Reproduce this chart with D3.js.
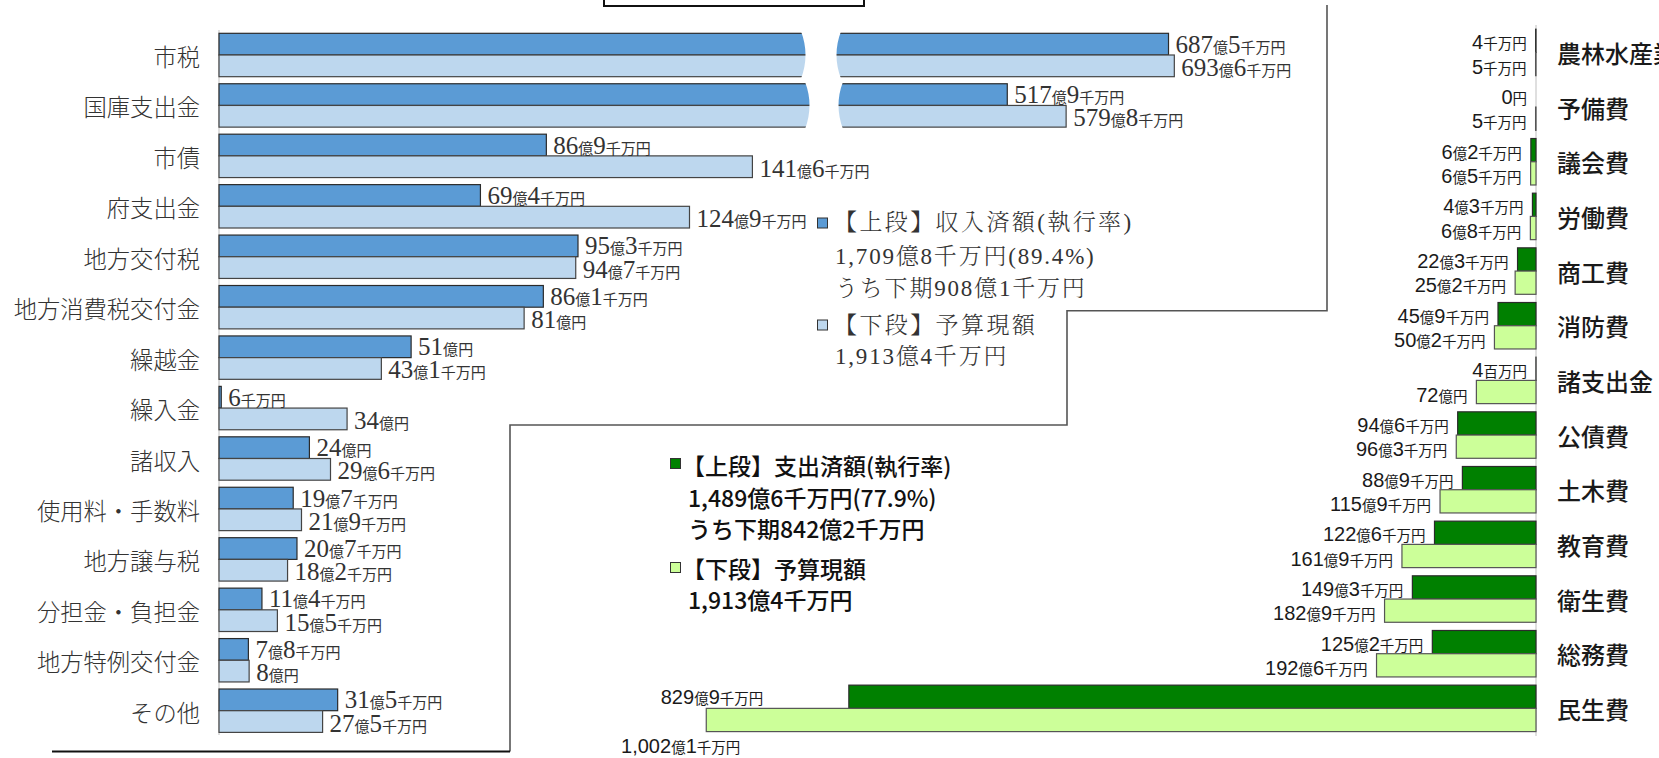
<!DOCTYPE html>
<html><head><meta charset="utf-8">
<script src="https://cdn.jsdelivr.net/npm/d3@7"></script>
<style>body{margin:0;background:#fff;} svg{display:block;}</style>
</head><body>
<svg id="chart" width="1659" height="758"></svg>
<script>
// ---------- DATA (億円) ----------
const revenueCategories = ["市税","国庫支出金","市債","府支出金","地方交付税","地方消費税交付金","繰越金","繰入金","諸収入","使用料・手数料","地方譲与税","分担金・負担金","地方特例交付金","その他"];
const revenueReceived = [687.5,517.9,86.9,69.4,95.3,86.1,51,0.6,24,19.7,20.7,11.4,7.8,31.5];
const revenueBudget   = [693.6,579.8,141.6,124.9,94.7,81,43.1,34,29.6,21.9,18.2,15.5,8,27.5];

const expenditureCategories = ["農林水産業費","予備費","議会費","労働費","商工費","消防費","諸支出金","公債費","土木費","教育費","衛生費","総務費","民生費"];
const expenditureSpent  = [0.4,0,6.2,4.3,22.3,45.9,0.04,94.6,88.9,122.6,149.3,125.2,829.9];
const expenditureBudget = [0.5,0.5,6.5,6.8,25.2,50.2,72,96.3,115.9,161.9,182.9,192.6,1002.1];

const revenueLegend = ["【上段】収入済額(執行率)","1,709億8千万円(89.4%)","うち下期908億1千万円","【下段】予算現額","1,913億4千万円"];
const expenditureLegend = ["【上段】支出済額(執行率)","1,489億6千万円(77.9%)","うち下期842億2千万円","【下段】予算現額","1,913億4千万円"];

// ---------- STYLE ----------
const C = {revTop:"#5B9BD5", revBot:"#BDD7EE", expTop:"#008000", expBot:"#CCFF99", stroke:"#2b2b2b"};
const SERIF = "'Liberation Serif','Noto Serif CJK JP','Noto Sans CJK JP',serif";
const JP = "'Noto Sans CJK JP','Noto Sans',sans-serif";
const SANSNUM = "'Liberation Sans Narrow','Liberation Sans',Arial,sans-serif";

const svg = d3.select("#chart");

// ---------- helpers ----------
function labelParts(v){
  if (v === 0) return [["0",1],["円",0]];
  if (v < 0.1) return [[String(Math.round(v*100)),1],["百万円",0]];
  const tenths = Math.round(v*10);
  const oku = Math.floor(tenths/10), sen = tenths % 10;
  if (oku === 0) return [[String(sen),1],["千万円",0]];
  const p = [[d3.format(",")(oku),1],["億",0]];
  if (sen > 0) { p.push([String(sen),1]); p.push(["千万円",0]); } else p.push(["円",0]);
  return p;
}
function drawLabel(g, v, x, y, anchor, big, small){
  const t = g.append("text").attr("x",x).attr("y",y).attr("text-anchor",anchor).attr("fill",big.fill);
  labelParts(v).forEach(([s,isBig])=>{
    const o = isBig ? big : small;
    t.append("tspan").text(s).attr("font-family",o.family).attr("font-size",o.size).attr("font-weight",o.weight||400);
  });
  return t;
}

// ---------- frame lines ----------
const frame = [[1327,5],[1327,310.7],[1067,310.7],[1067,425],[510,425],[510,751.5]];
svg.append("path").attr("d", d3.line()(frame)).attr("fill","none").attr("stroke","#555").attr("stroke-width",1.6);
svg.append("line").attr("x1",510).attr("x2",52).attr("y1",751.5).attr("y2",751.5).attr("stroke","#111").attr("stroke-width",2);
svg.append("path").attr("d","M604,-10V6H864V-10").attr("fill","none").attr("stroke","#111").attr("stroke-width",2);

// ---------- LEFT: revenue ----------
const yL = d3.scaleBand().domain(revenueCategories).range([26.25, 739.45]).padding(0.14);
const xL = d3.scaleLinear().domain([0,154.5,343,700]).range([219,801,841,1180.4]);
const gL = svg.append("g");
const bhL = yL.bandwidth()/2;

gL.append("line").attr("x1",xL(0)).attr("x2",xL(0)).attr("y1",30).attr("y2",735).attr("stroke","#d4d4d4").attr("stroke-width",1.5);

revenueCategories.forEach((c,i)=>{
  const y0 = yL(c);
  gL.append("rect").attr("x",xL(0)).attr("y",y0).attr("width",xL(revenueReceived[i])-xL(0)).attr("height",bhL)
    .attr("fill",C.revTop).attr("stroke",C.stroke).attr("stroke-width",1.2);
  gL.append("rect").attr("x",xL(0)).attr("y",y0+bhL).attr("width",xL(revenueBudget[i])-xL(0)).attr("height",bhL)
    .attr("fill",C.revBot).attr("stroke","#444").attr("stroke-width",1.2);
});

// axis break (white wavy gap) on the two long categories
revenueCategories.slice(0,2).forEach((c,i)=>{
  const top = yL(c)-2, bot = yL(c)+yL.bandwidth()+2, mid = (top+bot)/2;
  const xa = xL(154.5) + i*4, xb = xL(343) + i*2;
  gL.append("path")
    .attr("d",`M${xa},${top} Q${xa+9},${mid} ${xa},${bot} L${xb},${bot} Q${xb-9},${mid} ${xb},${top} Z`)
    .attr("fill","#fff");
});

// value labels
const bigL = {family:SERIF, size:"25px", fill:"#333"}, smallL = {family:JP, size:"15px"};
revenueCategories.forEach((c,i)=>{
  const y0 = yL(c);
  drawLabel(gL, revenueReceived[i], xL(revenueReceived[i])+7, y0+bhL/2+8.5, "start", bigL, smallL);
  drawLabel(gL, revenueBudget[i], xL(revenueBudget[i])+7, y0+bhL*1.5+10, "start", bigL, smallL);
});

// category labels
gL.selectAll(".catL").data(revenueCategories).enter().append("text")
  .attr("x",200).attr("y",d=>yL(d)+yL.bandwidth()/2+1)
  .attr("text-anchor","end").attr("dominant-baseline","central")
  .attr("font-family",JP).attr("font-size","23.3px").attr("font-weight",300).attr("fill","#333")
  .text(d=>d);

// legend (revenue)
const legL = svg.append("g");
const legLy = [222, 256, 288, 325, 356.5];
legL.append("rect").attr("x",817.5).attr("y",218).attr("width",10).attr("height",10).attr("fill",C.revTop).attr("stroke","#333");
legL.append("rect").attr("x",817.5).attr("y",320).attr("width",10).attr("height",10).attr("fill",C.revBot).attr("stroke","#333");
revenueLegend.forEach((s,i)=>{
  legL.append("text").attr("x", (i===0||i===3)?834:835).attr("y",legLy[i]).attr("dominant-baseline","central")
    .attr("font-family",SERIF).attr("font-size","23px").attr("letter-spacing",(i===0||i===3)?"2.4px":"1.8px").attr("font-weight",300).attr("fill","#333").text(s);
});

// ---------- RIGHT: expenditure ----------
const yR = d3.scaleBand().domain(expenditureCategories).range([21, 739.8]).padding(0.15);
const xR = d3.scaleLinear().domain([0,1000]).range([1536,708]);
const gR = svg.append("g");
const bhR = yR.bandwidth()/2;

gR.append("line").attr("x1",xR(0)).attr("x2",xR(0)).attr("y1",25).attr("y2",736).attr("stroke","#d4d4d4").attr("stroke-width",1.5);

expenditureCategories.forEach((c,i)=>{
  const y0 = yR(c);
  if (expenditureSpent[i] > 0)
  gR.append("rect").attr("x",xR(expenditureSpent[i])).attr("y",y0).attr("width",xR(0)-xR(expenditureSpent[i])).attr("height",bhR)
    .attr("fill",C.expTop).attr("stroke",C.stroke).attr("stroke-width",1.2);
  gR.append("rect").attr("x",xR(expenditureBudget[i])).attr("y",y0+bhR).attr("width",xR(0)-xR(expenditureBudget[i])).attr("height",bhR)
    .attr("fill",C.expBot).attr("stroke","#555").attr("stroke-width",1.2);
});

const bigR = {family:SANSNUM, size:"20px", fill:"#1a1a1a"}, smallR = {family:JP, size:"14.5px"};
const last = expenditureCategories.length-1;
expenditureCategories.forEach((c,i)=>{
  const y0 = yR(c);
  if (i === last) {
    // labels moved off the long bars
    drawLabel(gR, expenditureSpent[i], xR(expenditureBudget[i])+57, y0+bhR/2+7.5, "end", bigR, smallR);
    drawLabel(gR, expenditureBudget[i], xR(expenditureBudget[i])+34, y0+bhR*2+21.5, "end", bigR, smallR);
  } else {
    drawLabel(gR, expenditureSpent[i], xR(expenditureSpent[i])-9, y0+bhR/2+8.5, "end", bigR, smallR);
    drawLabel(gR, expenditureBudget[i], xR(expenditureBudget[i])-9, y0+bhR*1.5+9.5, "end", bigR, smallR);
  }
});

gR.selectAll(".catR").data(expenditureCategories).enter().append("text")
  .attr("x",1557).attr("y",d=>yR(d)+yR.bandwidth()/2)
  .attr("dominant-baseline","central")
  .attr("font-family",JP).attr("font-size","24px").attr("font-weight",500).attr("fill","#1a1a1a")
  .text(d=>d);

// legend (expenditure)
const legR = svg.append("g");
const legRy = [465, 496.5, 528, 567.5, 598.5];
legR.append("rect").attr("x",670.5).attr("y",458.5).attr("width",10).attr("height",10).attr("fill",C.expTop).attr("stroke","#333");
legR.append("rect").attr("x",670.5).attr("y",562.5).attr("width",10).attr("height",10).attr("fill",C.expBot).attr("stroke","#333");
expenditureLegend.forEach((s,i)=>{
  legR.append("text").attr("x",(i===0||i===3)?682:688).attr("y",legRy[i]).attr("dominant-baseline","central")
    .attr("font-family",JP).attr("font-size","23px").attr("font-weight",500).attr("fill","#111").text(s);
});
</script>
</body></html>
